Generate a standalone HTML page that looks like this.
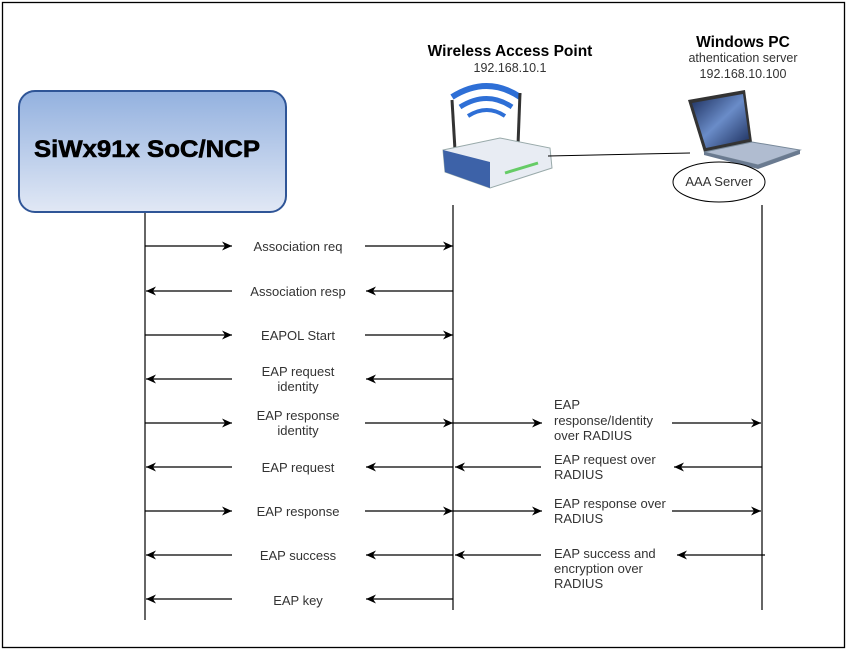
<!DOCTYPE html>
<html><head><meta charset="utf-8"><style>
html,body{margin:0;padding:0;background:#fff}
svg{display:block}
text{font-family:"Liberation Sans",sans-serif}
</style></head><body>
<svg width="848" height="652" viewBox="0 0 848 652" xmlns="http://www.w3.org/2000/svg">
<defs>
<linearGradient id="g" x1="0" y1="0" x2="0" y2="1">
<stop offset="0" stop-color="#93b1df"/><stop offset="1" stop-color="#e1e8f5"/></linearGradient>
<linearGradient id="scr" x1="0" y1="0" x2="1" y2="1">
<stop offset="0" stop-color="#1a2c5a"/><stop offset="0.5" stop-color="#6a8cc8"/><stop offset="1" stop-color="#1a2c5a"/></linearGradient>
<marker id="a" markerWidth="12" markerHeight="10" refX="10" refY="5" orient="auto" markerUnits="userSpaceOnUse">
<path d="M0,0.5 L10,5 L0,9.5 L3,5 Z" fill="#000"/></marker>
</defs>
<rect x="2.5" y="2.5" width="842" height="645" fill="#fff" stroke="#000" stroke-width="1.3"/>
<rect x="19" y="91" width="267" height="121" rx="16" fill="url(#g)" stroke="#2f5597" stroke-width="2"/>
<text x="34" y="157" font-size="24" font-weight="bold" fill="#000" stroke="#000" stroke-width="0.6" textLength="226" lengthAdjust="spacingAndGlyphs">SiWx91x SoC/NCP</text>

<text x="510" y="56" font-size="15.5" font-weight="bold" text-anchor="middle">Wireless Access Point</text>
<text x="510" y="72" font-size="12.5" text-anchor="middle" fill="#333">192.168.10.1</text>
<text x="743" y="47" font-size="15.5" font-weight="bold" text-anchor="middle">Windows PC</text>
<text x="743" y="62" font-size="12.5" text-anchor="middle" fill="#333">athentication server</text>
<text x="743" y="78" font-size="12.5" text-anchor="middle" fill="#333">192.168.10.100</text>

<path d="M452,97 Q487,75 520,97" fill="none" stroke="#2e6fd6" stroke-width="6"/>
<path d="M460,107 Q487,90 512,107" fill="none" stroke="#2e6fd6" stroke-width="5"/>
<path d="M468,116 Q487,104 505,116" fill="none" stroke="#2e6fd6" stroke-width="4"/>
<line x1="452" y1="100" x2="455" y2="150" stroke="#333" stroke-width="3"/>
<line x1="520" y1="93" x2="518" y2="145" stroke="#333" stroke-width="3"/>
<path d="M443,150 L500,138 L550,148 L552,168 L490,188 L445,172 Z" fill="#e8ecf3" stroke="#9aa" stroke-width="1"/>
<path d="M443,150 L490,162 L490,188 L445,172 Z" fill="#3d62a8"/>
<line x1="505" y1="173" x2="538" y2="163" stroke="#6c6" stroke-width="3"/>

<path d="M688,100 L745,90 L752,142 L704,152 Z" fill="#333"/>
<path d="M692,103 L743,94 L749,139 L706,148 Z" fill="url(#scr)"/>
<path d="M704,152 L752,142 L800,150 L758,165 Z" fill="#b0bcd0" stroke="#789" stroke-width="1"/>
<path d="M758,165 L800,150 L800,154 L758,169 L704,155 L704,152 Z" fill="#6a7a90"/>

<line x1="548" y1="156" x2="690" y2="153" stroke="#000" stroke-width="1"/>
<ellipse cx="719" cy="182" rx="46" ry="20" fill="#fff" stroke="#000" stroke-width="1"/>
<text x="719" y="186" font-size="13" text-anchor="middle" fill="#333">AAA Server</text>

<g stroke="#000" stroke-width="1.2">
<line x1="145" y1="213" x2="145" y2="620"/>
<line x1="453" y1="205" x2="453" y2="610"/>
<line x1="762" y1="205" x2="762" y2="610"/>
</g>

<g stroke="#000" stroke-width="1.2" fill="none">
<line x1="145" y1="246" x2="232" y2="246" marker-end="url(#a)"/><line x1="365" y1="246" x2="453" y2="246" marker-end="url(#a)"/>
<line x1="232" y1="291" x2="146" y2="291" marker-end="url(#a)"/><line x1="453" y1="291" x2="366" y2="291" marker-end="url(#a)"/>
<line x1="145" y1="335" x2="232" y2="335" marker-end="url(#a)"/><line x1="365" y1="335" x2="453" y2="335" marker-end="url(#a)"/>
<line x1="232" y1="379" x2="146" y2="379" marker-end="url(#a)"/><line x1="453" y1="379" x2="366" y2="379" marker-end="url(#a)"/>
<line x1="145" y1="423" x2="232" y2="423" marker-end="url(#a)"/><line x1="365" y1="423" x2="453" y2="423" marker-end="url(#a)"/>
<line x1="232" y1="467" x2="146" y2="467" marker-end="url(#a)"/><line x1="453" y1="467" x2="366" y2="467" marker-end="url(#a)"/>
<line x1="145" y1="511" x2="232" y2="511" marker-end="url(#a)"/><line x1="365" y1="511" x2="453" y2="511" marker-end="url(#a)"/>
<line x1="232" y1="555" x2="146" y2="555" marker-end="url(#a)"/><line x1="453" y1="555" x2="366" y2="555" marker-end="url(#a)"/>
<line x1="232" y1="599" x2="146" y2="599" marker-end="url(#a)"/><line x1="453" y1="599" x2="366" y2="599" marker-end="url(#a)"/>
<line x1="453" y1="423" x2="542" y2="423" marker-end="url(#a)"/><line x1="672" y1="423" x2="761" y2="423" marker-end="url(#a)"/>
<line x1="541" y1="467" x2="455" y2="467" marker-end="url(#a)"/><line x1="762" y1="467" x2="674" y2="467" marker-end="url(#a)"/>
<line x1="453" y1="511" x2="542" y2="511" marker-end="url(#a)"/><line x1="672" y1="511" x2="761" y2="511" marker-end="url(#a)"/>
<line x1="541" y1="555" x2="455" y2="555" marker-end="url(#a)"/><line x1="765" y1="555" x2="677" y2="555" marker-end="url(#a)"/>
</g>

<g font-size="13" fill="#333" text-anchor="middle">
<text x="298" y="251">Association req</text>
<text x="298" y="296">Association resp</text>
<text x="298" y="340">EAPOL Start</text>
<text x="298" y="376">EAP request</text>
<text x="298" y="391">identity</text>
<text x="298" y="420">EAP response</text>
<text x="298" y="435">identity</text>
<text x="298" y="472">EAP request</text>
<text x="298" y="516">EAP response</text>
<text x="298" y="560">EAP success</text>
<text x="298" y="605">EAP key</text>
</g>
<g font-size="13" fill="#333">
<text x="554" y="409">EAP</text>
<text x="554" y="425">response/Identity</text>
<text x="554" y="440">over RADIUS</text>
<text x="554" y="464">EAP request over</text>
<text x="554" y="479">RADIUS</text>
<text x="554" y="508">EAP response over</text>
<text x="554" y="523">RADIUS</text>
<text x="554" y="558">EAP success and</text>
<text x="554" y="573">encryption over</text>
<text x="554" y="588">RADIUS</text>
</g>
</svg>
</body></html>
